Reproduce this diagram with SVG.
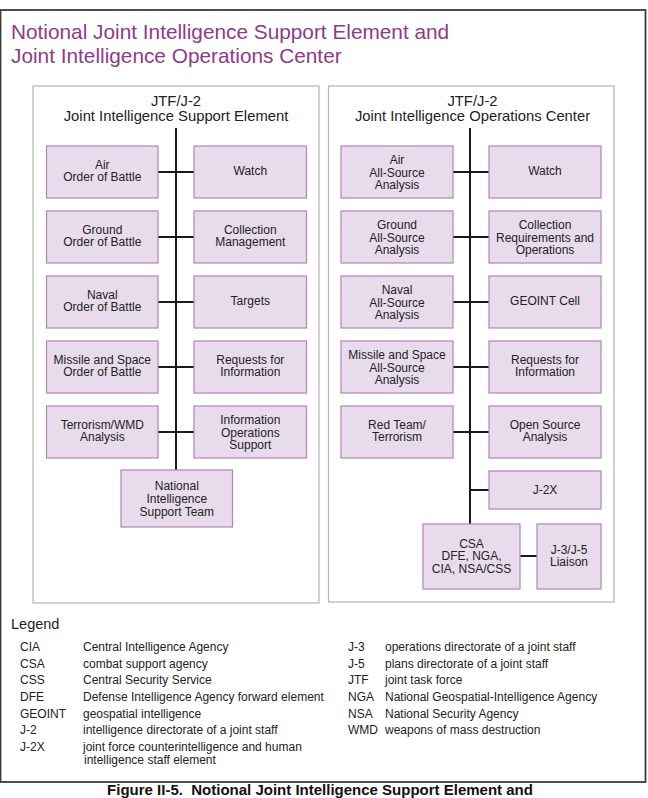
<svg xmlns="http://www.w3.org/2000/svg" width="648" height="798" viewBox="0 0 648 798">
<style>
text{font-family:"Liberation Sans",Arial,sans-serif;fill:#222}
.title{font-size:20.8px;fill:#8e3a8c}
.head{font-size:14.8px;text-anchor:middle;fill:#222}
.bt{font-size:12px;text-anchor:middle}
.box{fill:#e8dcec;stroke:#b482b6;stroke-width:1.2}
.panel{fill:#fff;stroke:#b3b3b3;stroke-width:1.2}
.ln{stroke:#1a1a1a;stroke-width:2;fill:none}
.lg{font-size:12px}
.cap{font-size:15px;font-weight:bold;text-anchor:middle;fill:#111}
</style>
<rect x="0" y="0" width="648" height="798" fill="#fff"/>
<rect x="0.5" y="10" width="645" height="772" fill="#fff" stroke="#3a3a3a" stroke-width="1.8"/>
<text class="title" x="11" y="39">Notional Joint Intelligence Support Element and</text>
<text class="title" x="11" y="63">Joint Intelligence Operations Center</text>

<rect class="panel" x="33" y="86" width="286" height="517"/>
<rect class="panel" x="328.5" y="86" width="285.5" height="516"/>
<text class="head" x="176" y="106">JTF/J-2</text>
<text class="head" x="176" y="121">Joint Intelligence Support Element</text>
<text class="head" x="472.5" y="106">JTF/J-2</text>
<text class="head" x="472.5" y="121">Joint Intelligence Operations Center</text>

<g id="connectors">
<path class="ln" d="M176 128V470"/>
<path class="ln" d="M158 172H194M158 237H194M158 302H194M158 367H194M158 432H194"/>
<path class="ln" d="M470 128V524"/>
<path class="ln" d="M453 172H489M453 237H489M453 302H489M453 367H489M453 432H489M470 490H489"/>
<path class="ln" d="M520 556H537"/>
</g>

<g id="jise-air"><rect class="box" x="46.5" y="146" width="111.5" height="52"/><text class="bt" x="102.3" y="168.7">Air<tspan x="102.3" dy="12.7">Order of Battle</tspan></text></g>
<g id="jise-watch"><rect class="box" x="194" y="146" width="112.5" height="52"/><text class="bt" x="250.3" y="174.5">Watch</text></g>
<g id="jise-ground"><rect class="box" x="46.5" y="211" width="111.5" height="52"/><text class="bt" x="102.3" y="233.7">Ground<tspan x="102.3" dy="12.7">Order of Battle</tspan></text></g>
<g id="jise-collection"><rect class="box" x="194" y="211" width="112.5" height="52"/><text class="bt" x="250.3" y="233.7">Collection<tspan x="250.3" dy="12.7">Management</tspan></text></g>
<g id="jise-naval"><rect class="box" x="46.5" y="276" width="111.5" height="52"/><text class="bt" x="102.3" y="298.7">Naval<tspan x="102.3" dy="12.7">Order of Battle</tspan></text></g>
<g id="jise-targets"><rect class="box" x="194" y="276" width="112.5" height="52"/><text class="bt" x="250.3" y="304.5">Targets</text></g>
<g id="jise-missile"><rect class="box" x="46.5" y="341" width="111.5" height="52"/><text class="bt" x="102.3" y="363.7">Missile and Space<tspan x="102.3" dy="12.7">Order of Battle</tspan></text></g>
<g id="jise-rfi"><rect class="box" x="194" y="341" width="112.5" height="52"/><text class="bt" x="250.3" y="363.7">Requests for<tspan x="250.3" dy="12.7">Information</tspan></text></g>
<g id="jise-terrorism"><rect class="box" x="46.5" y="406" width="111.5" height="52"/><text class="bt" x="102.3" y="428.7">Terrorism/WMD<tspan x="102.3" dy="12.7">Analysis</tspan></text></g>
<g id="jise-io"><rect class="box" x="194" y="406" width="112.5" height="52"/><text class="bt" x="250.3" y="424">Information<tspan x="250.3" dy="12.7">Operations</tspan><tspan x="250.3" dy="12.7">Support</tspan></text></g>
<g id="jise-nist"><rect class="box" x="121" y="470" width="111.5" height="57"/><text class="bt" x="176.8" y="490.3">National<tspan x="176.8" dy="12.7">Intelligence</tspan><tspan x="176.8" dy="12.7">Support Team</tspan></text></g>

<g id="jioc-air"><rect class="box" x="341" y="146" width="112" height="52"/><text class="bt" x="397" y="164">Air<tspan x="397" dy="12.7">All-Source</tspan><tspan x="397" dy="12.7">Analysis</tspan></text></g>
<g id="jioc-watch"><rect class="box" x="489" y="146" width="112" height="52"/><text class="bt" x="545" y="174.5">Watch</text></g>
<g id="jioc-ground"><rect class="box" x="341" y="211" width="112" height="52"/><text class="bt" x="397" y="229">Ground<tspan x="397" dy="12.7">All-Source</tspan><tspan x="397" dy="12.7">Analysis</tspan></text></g>
<g id="jioc-collection"><rect class="box" x="489" y="211" width="112" height="52"/><text class="bt" x="545" y="229">Collection<tspan x="545" dy="12.7">Requirements and</tspan><tspan x="545" dy="12.7">Operations</tspan></text></g>
<g id="jioc-naval"><rect class="box" x="341" y="276" width="112" height="52"/><text class="bt" x="397" y="294">Naval<tspan x="397" dy="12.7">All-Source</tspan><tspan x="397" dy="12.7">Analysis</tspan></text></g>
<g id="jioc-geoint"><rect class="box" x="489" y="276" width="112" height="52"/><text class="bt" x="545" y="304.5">GEOINT Cell</text></g>
<g id="jioc-missile"><rect class="box" x="341" y="341" width="112" height="52"/><text class="bt" x="397" y="359">Missile and Space<tspan x="397" dy="12.7">All-Source</tspan><tspan x="397" dy="12.7">Analysis</tspan></text></g>
<g id="jioc-rfi"><rect class="box" x="489" y="341" width="112" height="52"/><text class="bt" x="545" y="363.7">Requests for<tspan x="545" dy="12.7">Information</tspan></text></g>
<g id="jioc-redteam"><rect class="box" x="341" y="406" width="112" height="52"/><text class="bt" x="397" y="428.7">Red Team/<tspan x="397" dy="12.7">Terrorism</tspan></text></g>
<g id="jioc-osa"><rect class="box" x="489" y="406" width="112" height="52"/><text class="bt" x="545" y="428.7">Open Source<tspan x="545" dy="12.7">Analysis</tspan></text></g>
<g id="jioc-j2x"><rect class="box" x="489" y="471" width="112" height="38"/><text class="bt" x="545" y="494">J-2X</text></g>
<g id="jioc-csa"><rect class="box" x="423" y="524" width="97" height="65"/><text class="bt" x="471.5" y="547.5">CSA<tspan x="471.5" dy="12.7">DFE, NGA,</tspan><tspan x="471.5" dy="12.7">CIA, NSA/CSS</tspan></text></g>
<g id="jioc-j3j5"><rect class="box" x="537" y="524" width="64" height="65"/><text class="bt" x="569" y="553.5">J-3/J-5<tspan x="569" dy="12.7">Liaison</tspan></text></g>

<g id="legend">
<text x="11" y="629" style="font-size:14.5px">Legend</text>
<text class="lg" x="20" y="651">CIA</text><text class="lg" x="83" y="651">Central Intelligence Agency</text>
<text class="lg" x="20" y="667.7">CSA</text><text class="lg" x="83" y="667.7">combat support agency</text>
<text class="lg" x="20" y="684.3">CSS</text><text class="lg" x="83" y="684.3">Central Security Service</text>
<text class="lg" x="20" y="701">DFE</text><text class="lg" x="83" y="701">Defense Intelligence Agency forward element</text>
<text class="lg" x="20" y="717.7">GEOINT</text><text class="lg" x="83" y="717.7">geospatial intelligence</text>
<text class="lg" x="20" y="734.3">J-2</text><text class="lg" x="83" y="734.3">intelligence directorate of a joint staff</text>
<text class="lg" x="20" y="751">J-2X</text><text class="lg" x="83" y="751">joint force counterintelligence and human</text>
<text class="lg" x="84" y="763.5">intelligence staff element</text>
<text class="lg" x="348" y="651">J-3</text><text class="lg" x="385" y="651">operations directorate of a joint staff</text>
<text class="lg" x="348" y="667.7">J-5</text><text class="lg" x="385" y="667.7">plans directorate of a joint staff</text>
<text class="lg" x="348" y="684.3">JTF</text><text class="lg" x="385" y="684.3">joint task force</text>
<text class="lg" x="348" y="701">NGA</text><text class="lg" x="385" y="701">National Geospatial-Intelligence Agency</text>
<text class="lg" x="348" y="717.7">NSA</text><text class="lg" x="385" y="717.7">National Security Agency</text>
<text class="lg" x="348" y="734.3">WMD</text><text class="lg" x="385" y="734.3">weapons of mass destruction</text>
</g>
<text class="cap" x="320" y="794.5" xml:space="preserve">Figure II-5.  Notional Joint Intelligence Support Element and</text>
</svg>
